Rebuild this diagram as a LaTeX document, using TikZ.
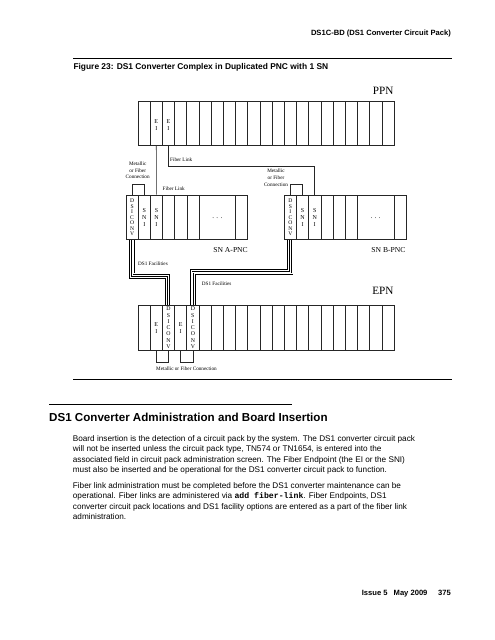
\documentclass[tikz,border=0pt]{standalone}
\usepackage{fontspec}
\setmainfont{Liberation Serif}
\setsansfont{Liberation Sans}
\setmonofont{Liberation Mono}
\begin{document}
\begin{tikzpicture}[x=1pt,y=-1pt,
  slot/.style={draw=black!85, line width=0.6pt, minimum width=12.19pt, minimum height=44pt, inner sep=0pt, anchor=north west},
  sslot/.style={draw=black!85, line width=0.6pt, minimum width=12.17pt, minimum height=44.6pt, inner sep=0pt, anchor=north west},
  lbl/.style={font=\fontsize{6}{7.2}\selectfont, align=center, inner sep=0pt},
  conv/.style={font=\fontsize{5.6}{5.5}\selectfont, align=center, inner sep=0pt},
  tiny/.style={font=\fontsize{5.2}{6.6}\selectfont, inner sep=0pt},
  wire/.style={draw=black!85, line width=0.6pt},
  cable/.style={line width=6pt, draw=black, line join=miter,
    postaction={draw=white, line width=4.3pt, line join=miter,
      postaction={draw=black, line width=2.7pt, line join=miter,
        postaction={draw=white, line width=0.9pt, line join=miter}}}},
  pagetext/.style={font=\sffamily\fontsize{8.2}{10}\selectfont, inner sep=0pt, anchor=base west},
  rulel/.style={line width=0.8pt}
]
\useasboundingbox[fill=white] (0,0) rectangle (495,640);

% page header
\node[font=\sffamily\bfseries\fontsize{7.6}{9}\selectfont, inner sep=0pt, anchor=base east] (hdr) at (451,35) {DS1C-BD (DS1 Converter Circuit Pack)};
\draw[rulel] (73.3,58.3) -- (451.7,58.3);
\node[font=\sffamily\bfseries\fontsize{8.4}{9}\selectfont, inner sep=0pt, anchor=base west] (cap) at (73.3,69) {Figure 23: DS1 Converter Complex in Duplicated PNC with 1 SN};
\draw[rulel] (73.3,379) -- (451.7,379);

% PPN shelf
\foreach \i in {1,...,21} \node[slot] (ppn\i) at ({137.7+(\i-1)*12.19},101) {};
\node[lbl] (ppnl2) at ([yshift=-2pt]ppn2.center) {E\\I};
\node[lbl] (ppnl3) at ([yshift=-2pt]ppn3.center) {E\\I};
\node[font=\fontsize{11.2}{12}\selectfont, inner sep=0pt, anchor=base east] (ppnlab) at (393.7,94.5) {PPN};

% SN A shelf
\foreach \i in {1,...,6} \node[sslot] (sna\i) at ({125.7+(\i-1)*12.17},194.7) {};
\node[sslot, minimum width=36.6pt] (sna7) at (198.7,194.7) {};
\node[sslot, minimum width=12pt] (sna8) at (235.3,194.7) {};
\node[conv] (snal1) at (sna1.center) {D\\S\\I\\C\\O\\N\\V};
\node[lbl] (snal2) at (sna2.center) {S\\N\\I};
\node[lbl] (snal3) at (sna3.center) {S\\N\\I};
\node[font=\fontsize{7}{8}\selectfont, inner sep=0pt] (snadots) at ([yshift=-1pt]sna7.center) {.\,\,.\,\,.};
\node[font=\fontsize{7.6}{9}\selectfont, inner sep=0pt, anchor=base east] (snalab) at (248,252.8) {SN A-PNC};

% SN B shelf
\foreach \i in {1,...,6} \node[sslot] (snb\i) at ({284+(\i-1)*12.17},194.7) {};
\node[sslot, minimum width=36.6pt] (snb7) at (357,194.7) {};
\node[sslot, minimum width=12pt] (snb8) at (393.6,194.7) {};
\node[conv] (snbl1) at (snb1.center) {D\\S\\I\\C\\O\\N\\V};
\node[lbl] (snbl2) at (snb2.center) {S\\N\\I};
\node[lbl] (snbl3) at (snb3.center) {S\\N\\I};
\node[font=\fontsize{7}{8}\selectfont, inner sep=0pt] (snbdots) at ([yshift=-1pt]snb7.center) {.\,\,.\,\,.};
\node[font=\fontsize{7.6}{9}\selectfont, inner sep=0pt, anchor=base east] (snblab) at (405.6,252.8) {SN B-PNC};

% EPN shelf
\foreach \i in {1,...,21} \node[slot, minimum height=45pt] (epn\i) at ({137.7+(\i-1)*12.19},305) {};
\node[lbl] (epnl2) at (epn2.center) {E\\I};
\node[conv, font=\fontsize{5.8}{6.3}\selectfont] (epnl3) at (epn3.center) {D\\S\\I\\C\\O\\N\\V};
\node[lbl] (epnl4) at (epn4.center) {E\\I};
\node[conv, font=\fontsize{5.8}{6.3}\selectfont] (epnl5) at (epn5.center) {D\\S\\I\\C\\O\\N\\V};
\node[font=\fontsize{11.2}{12}\selectfont, inner sep=0pt, anchor=base east] (epnlab) at (393.7,294) {EPN};

% fiber links
\coordinate (fl2) at (0,166);
\draw[wire] (ppn2.south) -- (sna3.north);
\draw[wire] (ppn3.south) -- (ppn3.south |- fl2) -| (snb3.north);
\node[tiny, anchor=west] (fltxt1) at (170,160) {Fiber Link};
\node[tiny, anchor=west] (fltxt2) at (162.5,188.7) {Fiber Link};

% metallic brackets
\draw[wire] (sna1.north) -- ++(0,-10.7) -| (sna2.north);
\draw[wire] (snb1.north) -- ++(0,-10.7) -| (snb2.north);
\node[tiny, align=center] (mfa) at (137.7,170.3) {Metallic\\or Fiber\\Connection};
\node[tiny, align=center] (mfb) at (276,177.7) {Metallic\\or Fiber\\Connection};
\draw[wire] (epn2.south) -- ++(0,11.3) -| (epn3.south);
\draw[wire] (epn4.south) -- ++(0,11.3) -| (epn5.south);
\node[tiny] (mfe) at (186.5,369) {Metallic or Fiber Connection};

% DS1 facilities cables
\coordinate (ca) at (0,275.5);
\coordinate (cb) at (0,272);
\draw[cable] (sna1.south) -- (sna1.south |- ca) -| (epn3.north);
\draw[cable] (snb1.south) -- (snb1.south |- cb) -| (epn5.north);
\node[tiny, anchor=west] (dsf1) at (138,263.3) {DS1 Facilities};
\node[tiny, anchor=west] (dsf2) at (201.7,284) {DS1 Facilities};

% section
\draw[rulel] (49,404.3) -- (292,404.3);
\node[font=\sffamily\bfseries\fontsize{11.6}{13}\selectfont, inner sep=0pt, anchor=base west] (sec) at (49,421) {DS1 Converter Administration and Board Insertion};

\node[pagetext] (p1a) at (72.7,441.5) {Board insertion is the detection of a circuit pack by the system. The DS1 converter circuit pack};
\node[pagetext] (p1b) at (72.7,451.9) {will not be inserted unless the circuit pack type, TN574 or TN1654, is entered into the};
\node[pagetext] (p1c) at (72.7,462.3) {associated field in circuit pack administration screen. The Fiber Endpoint (the EI or the SNI)};
\node[pagetext] (p1d) at (72.7,472.7) {must also be inserted and be operational for the DS1 converter circuit pack to function.};
\node[pagetext] (p2a) at (72.7,488.5) {Fiber link administration must be completed before the DS1 converter maintenance can be};
\node[pagetext] (p2b) at (72.7,498.9) {operational. Fiber links are administered via \texttt{\bfseries add fiber-link}. Fiber Endpoints, DS1};
\node[pagetext] (p2c) at (72.7,509.3) {converter circuit pack locations and DS1 facility options are entered as a part of the fiber link};
\node[pagetext] (p2d) at (72.7,519.7) {administration.};

\node[font=\sffamily\bfseries\fontsize{7.6}{9}\selectfont, inner sep=0pt, anchor=base east] (ftr) at (451,595.5) {Issue 5\hspace{0.8em}May 2009\hspace{1.4em}375};
\end{tikzpicture}
\end{document}
